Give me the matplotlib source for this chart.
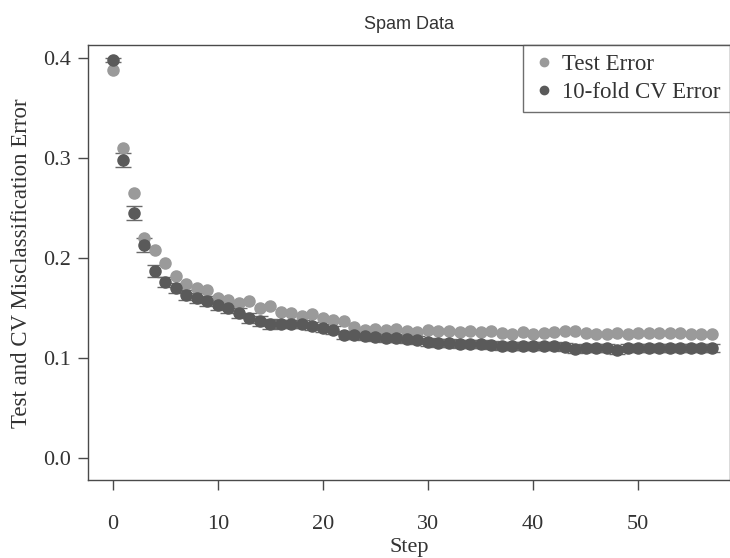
import matplotlib
matplotlib.use("Agg")
import matplotlib.pyplot as plt
import numpy as np

# step index
steps = list(range(58))

# test set misclassification error
test_err = [0.388, 0.310, 0.265, 0.220, 0.208, 0.195, 0.182, 0.174, 0.170, 0.168,
            0.160, 0.158, 0.155, 0.157, 0.150, 0.152, 0.146, 0.145, 0.142, 0.144,
            0.140, 0.138, 0.137, 0.131, 0.128, 0.129, 0.128, 0.129, 0.127, 0.126,
            0.128, 0.127, 0.127, 0.126, 0.127, 0.126, 0.127, 0.125, 0.124, 0.126,
            0.124, 0.125, 0.126, 0.127, 0.127, 0.125, 0.124, 0.124, 0.125, 0.124,
            0.125, 0.125, 0.125, 0.125, 0.125, 0.124, 0.124, 0.124]

# 10-fold CV error and its standard error
cv_err = [0.398, 0.298, 0.245, 0.213, 0.187, 0.176, 0.170, 0.163, 0.160, 0.157,
          0.153, 0.150, 0.145, 0.140, 0.137, 0.134, 0.134, 0.134, 0.134, 0.132,
          0.130, 0.128, 0.123, 0.123, 0.122, 0.121, 0.120, 0.120, 0.119, 0.118,
          0.116, 0.115, 0.115, 0.114, 0.114, 0.114, 0.113, 0.112, 0.112, 0.112,
          0.112, 0.112, 0.112, 0.111, 0.109, 0.110, 0.110, 0.110, 0.108, 0.110,
          0.110, 0.110, 0.110, 0.110, 0.110, 0.110, 0.110, 0.110]
cv_se = [0.002, 0.007, 0.007, 0.007, 0.006, 0.005, 0.005, 0.005, 0.005, 0.005,
         0.005, 0.005, 0.005, 0.005, 0.005, 0.005, 0.004, 0.004, 0.004, 0.004,
         0.004, 0.004, 0.004, 0.004, 0.004, 0.004, 0.004, 0.004, 0.004, 0.004,
         0.004, 0.004, 0.004, 0.004, 0.004, 0.004, 0.004, 0.004, 0.004, 0.004,
         0.004, 0.004, 0.004, 0.004, 0.004, 0.004, 0.004, 0.004, 0.004, 0.004,
         0.004, 0.004, 0.004, 0.004, 0.004, 0.004, 0.004, 0.004]

serif = "Liberation Serif"
fig = plt.figure(figsize=(7.3, 5.58), dpi=100)
ax = fig.add_axes([0.1205, 0.139, 0.879, 0.78])

edge = "#4a4a4a"
ax.errorbar(steps, cv_err, yerr=cv_se, fmt="none", ecolor="#6a6a6a",
            elinewidth=1.0, capsize=5.5, capthick=1.0, zorder=1)
ax.plot(steps, test_err, "o", color="#9a9a9a", markersize=8, zorder=2,
        label="Test Error")
ax.plot(steps, cv_err, "o", color="#5a5a5a", markersize=8, zorder=3,
        label="10-fold CV Error")

ax.set_xlim(-2.35, 58.7)
ax.set_ylim(-0.022, 0.413)
ax.set_xticks([0, 10, 20, 30, 40, 50])
ax.set_yticks([0.0, 0.1, 0.2, 0.3, 0.4])
ax.set_yticklabels(["0.0", "0.1", "0.2", "0.3", "0.4"])

for sp in ax.spines.values():
    sp.set_color(edge)
    sp.set_linewidth(1.0)
ax.tick_params(direction="out", length=7, width=1.0, color=edge,
               labelsize=16, labelcolor="#333333", pad=5)
for lab in ax.get_xticklabels() + ax.get_yticklabels():
    lab.set_fontfamily(serif)
ax.tick_params(axis="x", pad=18)

ax.set_xlabel("Step", fontsize=16, family=serif, color="#333333", labelpad=3)
ax.set_ylabel("Test and CV Misclassification Error", fontsize=16.5, family=serif,
              color="#333333", labelpad=8)
ax.set_title("Spam Data", fontsize=13, family="Liberation Sans",
             color="#333333", pad=12)

leg = ax.legend(loc="upper right", prop={"family": serif, "size": 16.5},
                frameon=True, fancybox=False, borderaxespad=0,
                handletextpad=0.3, handlelength=1.0, markerscale=0.75,
                borderpad=0.4, labelspacing=0.3)
leg.get_frame().set_edgecolor(edge)
leg.get_frame().set_linewidth(1.0)
for t in leg.get_texts():
    t.set_color("#333333")

fig.savefig("out.png", dpi=100)
